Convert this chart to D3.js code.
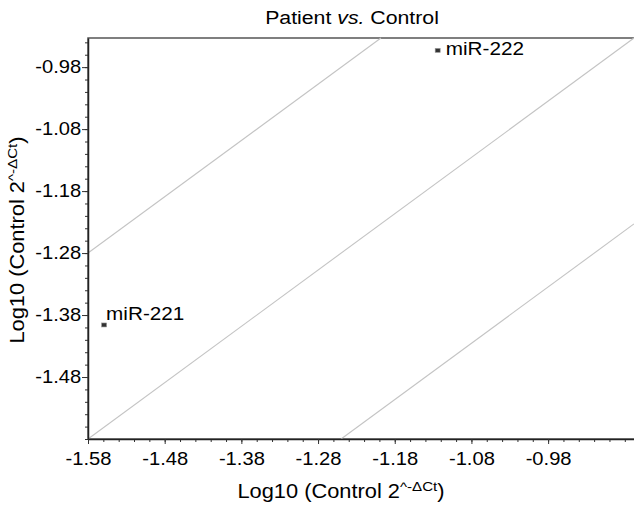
<!DOCTYPE html>
<html lang="en">
<head>
    <meta charset="UTF-8">
    <title>Patient vs. Control</title>
    <script src="https://d3js.org/d3.v7.min.js"></script>
    <style>
        body {
            margin: 0;
            background: #fff;
        }
        svg text {
            font-family: "Liberation Sans", Arial, sans-serif;
            fill: #000;
        }
    </style>
</head>
<body>
<div id="chart"></div>
<script>

    // data
    var mirNames = ['miR-222', 'miR-221'];
    var controlVals = [-1.124, -1.559];
    var patientVals = [-0.953, -1.396];

    var xTicks = [-1.58, -1.48, -1.38, -1.28, -1.18, -1.08, -0.98];
    var yTicks = [-0.98, -1.08, -1.18, -1.28, -1.38, -1.48];

    // fold-change reference lines, [x, y] end points
    var lineUpper = [[-1.58, -1.28], [-1.198, -0.933]];
    var lineMiddle = [[-1.58, -1.58], [-0.868, -0.933]];
    var lineLower = [[-1.250, -1.58], [-0.868, -1.233]];

    var w = 634, h = 505;
    var m = {top: 38, left: 88, bottom: 66, right: 0};
    var stretch = 'scale(1.12,1)';
    var fmt = d => d.toFixed(2);   // plain hyphen minus like the original

    var svg = d3.select('#chart')
                .append('svg')
                .attr('width', w)
                .attr('height', h);

    var x = d3.scaleLinear()
              .domain([-1.58, -0.868])
              .range([m.left, w - m.right]);
    var y = d3.scaleLinear()
              .domain([-1.58, -0.933])
              .range([h - m.bottom, m.top]);

    // frame
    svg.append('rect')
       .attr('x', m.left)
       .attr('y', m.top)
       .attr('width', w - m.left + 5)
       .attr('height', h - m.top - m.bottom)
       .style('fill', 'none')
       .style('stroke', '#555')
       .style('stroke-width', 1.5);

    // reference lines
    var line = d3.line().x(d => x(d[0])).y(d => y(d[1]));
    svg.selectAll('path.ref')
       .data([lineUpper, lineMiddle, lineLower])
       .enter()
       .append('path')
       .attr('class', 'ref')
       .attr('d', line)
       .style('fill', 'none')
       .style('stroke', '#c4c4c4')
       .style('stroke-width', 1.1);

    // minor ticks
    var xMinor = d3.range(-1.58, -0.87, 0.02);
    var yMinor = d3.range(-1.58, -0.93, 0.02);

    svg.append('g')
       .attr('transform', 'translate(0,' + (h - m.bottom) + ')')
       .call(d3.axisBottom(x).tickValues(xMinor).tickSize(3).tickFormat(''))
       .call(g => g.select('.domain').remove());
    svg.append('g')
       .attr('transform', 'translate(' + m.left + ',0)')
       .call(d3.axisLeft(y).tickValues(yMinor).tickSize(3).tickFormat(''))
       .call(g => g.select('.domain').remove());

    // major axes
    var xAxis = svg.append('g')
       .attr('transform', 'translate(0,' + (h - m.bottom) + ')')
       .call(d3.axisBottom(x).tickValues(xTicks).tickSize(5).tickPadding(8)
               .tickFormat(fmt).tickSizeOuter(0));
    var yAxis = svg.append('g')
       .attr('transform', 'translate(' + m.left + ',0)')
       .call(d3.axisLeft(y).tickValues(yTicks).tickSize(6).tickPadding(0)
               .tickFormat(fmt).tickSizeOuter(0));

    svg.selectAll('.tick line').style('stroke', '#333');
    svg.selectAll('.domain').style('stroke', '#222').style('stroke-width', 1.5);
    [xAxis, yAxis].forEach(function(a){
        a.selectAll('.tick text')
         .attr('font-size', 18)
         .style('font-family', '"Liberation Sans", Arial, sans-serif')
         .attr('fill', '#000')
         .attr('transform', stretch);
    });

    // points
    svg.selectAll('rect.pt')
       .data(mirNames)
       .enter()
       .append('rect')
       .attr('class', 'pt')
       .attr('x', (d, i) => x(controlVals[i]) - 2.5)
       .attr('y', (d, i) => y(patientVals[i]) - 2)
       .attr('width', 5)
       .attr('height', 4)
       .style('fill', '#333')
       .style('stroke', '#999')
       .style('stroke-width', 0.6);

    // point labels
    var labelOffset = [[8, 5], [2, -5]];
    svg.selectAll('text.lbl')
       .data(mirNames)
       .enter()
       .append('text')
       .attr('class', 'lbl')
       .attr('transform', (d, i) => 'translate(' + (x(controlVals[i]) + labelOffset[i][0]) + ',' +
                                    (y(patientVals[i]) + labelOffset[i][1]) + ') ' + stretch)
       .attr('font-size', 18.5)
       .text(d => d);

    // title
    var title = svg.append('text')
       .attr('transform', 'translate(352,24) ' + stretch)
       .attr('text-anchor', 'middle')
       .attr('font-size', 19);
    title.append('tspan').text('Patient ');
    title.append('tspan').style('font-style', 'italic').text('vs.');
    title.append('tspan').text(' Control');

    // axis labels
    function axisLabel(t){
        t.append('tspan').text('Log10 (Control 2');
        t.append('tspan').attr('font-size', 13.5).attr('dy', -7).text('^-\u0394Ct');
        t.append('tspan').attr('dy', 7).text(')');
    }
    var xl = svg.append('text')
       .attr('transform', 'translate(341,498) ' + stretch)
       .attr('text-anchor', 'middle')
       .attr('font-size', 19.5);
    axisLabel(xl);

    var yl = svg.append('text')
       .attr('transform', 'translate(24,240) rotate(-90) ' + stretch)
       .attr('text-anchor', 'middle')
       .attr('font-size', 19.5);
    axisLabel(yl);

</script>
</body>
</html>
